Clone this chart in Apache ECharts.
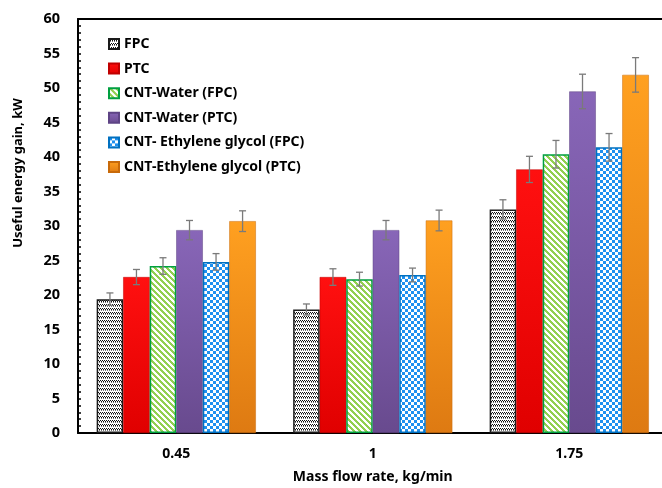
<!DOCTYPE html>
<html>
<head>
<meta charset="utf-8">
<script src="https://cdn.jsdelivr.net/npm/echarts@6/dist/echarts.min.js"></script>
<style>html,body{margin:0;padding:0;background:#fff;overflow:hidden}#c{width:662px;height:488px;overflow:hidden}</style>
</head>
<body>
<div id="c"></div>
<script>
var categories = ['0.45', '1', '1.75'];
var seriesNames = ['FPC', 'PTC', 'CNT-Water (FPC)', 'CNT-Water (PTC)', 'CNT- Ethylene glycol (FPC)', 'CNT-Ethylene glycol (PTC)'];
var fpc = [19.4, 17.9, 32.4];
var ptc = [22.6, 22.6, 38.2];
var cntWaterFpc = [24.2, 22.3, 40.4];
var cntWaterPtc = [29.4, 29.4, 49.5];
var cntEgFpc = [24.8, 22.9, 41.4];
var cntEgPtc = [30.7, 30.8, 51.9];
var fpcErr = [0.9, 0.8, 1.4];
var ptcErr = [1.1, 1.2, 1.9];
var cntWaterFpcErr = [1.2, 1.0, 2.0];
var cntWaterPtcErr = [1.4, 1.4, 2.5];
var cntEgFpcErr = [1.2, 1.0, 2.0];
var cntEgPtcErr = [1.5, 1.5, 2.5];
var yTicks = [0, 5, 10, 15, 20, 25, 30, 35, 40, 45, 50, 55, 60];

var values = [fpc, ptc, cntWaterFpc, cntWaterPtc, cntEgFpc, cntEgPtc];
var errors = [fpcErr, ptcErr, cntWaterFpcErr, cntWaterPtcErr, cntEgFpcErr, cntEgPtcErr];

function makePattern(w, h, draw) {
  var c = document.createElement('canvas');
  c.width = w; c.height = h;
  var ctx = c.getContext('2d');
  draw(ctx);
  return c;
}
var wavy = makePattern(4, 4, function (ctx) {
  ctx.fillStyle = '#ffffff'; ctx.fillRect(0, 0, 4, 4);
  ctx.fillStyle = '#111111';
  ctx.fillRect(0, 0, 1, 1); ctx.fillRect(1, 1, 1, 1); ctx.fillRect(2, 0, 1, 1); ctx.fillRect(3, 1, 1, 1);
  ctx.fillStyle = '#777777';
  ctx.fillRect(1, 2, 1, 1); ctx.fillRect(3, 2, 1, 1);
});
var stripes = makePattern(6, 6, function (ctx) {
  ctx.fillStyle = '#ffffff'; ctx.fillRect(0, 0, 6, 6);
  ctx.fillStyle = '#92D050';
  for (var i = 0; i < 6; i++) {
    ctx.fillRect(i, i, 1, 1); ctx.fillRect((i + 1) % 6, i, 1, 1); ctx.fillRect((i + 2) % 6, i, 1, 1);
  }
});
var checker = makePattern(6, 6, function (ctx) {
  ctx.fillStyle = '#ffffff'; ctx.fillRect(0, 0, 6, 6);
  ctx.fillStyle = '#1E90F0';
  ctx.fillRect(0, 0, 3, 3); ctx.fillRect(3, 3, 3, 3);
});
function grad(top, bottom) {
  return new echarts.graphic.LinearGradient(0, 0, 0, 1, [{offset: 0, color: top}, {offset: 1, color: bottom}]);
}
var styles = [
  {color: {image: wavy, repeat: 'repeat'}, borderColor: '#1a1a1a', borderWidth: 1.5},
  {color: grad('#FF1010', '#E00000'), borderColor: '#C00000', borderWidth: 0.5},
  {color: {image: stripes, repeat: 'repeat'}, borderColor: '#00A040', borderWidth: 1.5},
  {color: grad('#8866B8', '#684A8E'), borderColor: '#5E4485', borderWidth: 0.5},
  {color: {image: checker, repeat: 'repeat'}, borderColor: '#0070C0', borderWidth: 1.5},
  {color: grad('#FFA020', '#DE7A12'), borderColor: '#C86A0A', borderWidth: 0.5}
];

var gapPct = 0.19;
var series = [];
seriesNames.forEach(function (name, i) {
  series.push({
    name: name, type: 'bar', data: values[i],
    barGap: '0%', barCategoryGap: (gapPct * 100) + '%',
    itemStyle: styles[i], z: 2
  });
});
seriesNames.forEach(function (name, i) {
  series.push({
    name: name + ' err', type: 'custom', z: 5,
    data: values[i].map(function (v, k) { return [k, v, errors[i][k]]; }),
    encode: {x: 0, y: 1},
    renderItem: function (params, api) {
      var k = api.value(0), v = api.value(1), e = api.value(2);
      var c = api.coord([k, v]);
      var band = api.size([1, 0])[0];
      var bw = band * (1 - gapPct) / 6;
      var x = c[0] + (i - 2.5) * bw;
      var t = api.coord([k, v + e])[1];
      var b = api.coord([k, v - e])[1];
      var cap = 3.5;
      var st = {stroke: '#7a7a7a', lineWidth: 1.3};
      return {type: 'group', children: [
        {type: 'line', shape: {x1: x, y1: t, x2: x, y2: b}, style: st},
        {type: 'line', shape: {x1: x - cap, y1: t, x2: x + cap, y2: t}, style: st},
        {type: 'line', shape: {x1: x - cap, y1: b, x2: x + cap, y2: b}, style: st}
      ]};
    }
  });
});

var font = 'Noto Sans';
var chart = echarts.init(document.getElementById('c'), null, {renderer: 'canvas'});
chart.setOption({
  animation: false,
  backgroundColor: '#ffffff',
  grid: {left: 78, top: 19, bottom: 55, right: -5.5, show: false, outerBoundsMode: 'none', containLabel: false},
  legend: {
    data: seriesNames, orient: 'vertical', left: 103, top: 32,
    itemWidth: 10, itemHeight: 10, itemGap: 10.6, icon: 'rect',
    textStyle: {fontFamily: font, fontWeight: 'bold', fontSize: 14, color: '#000', lineHeight: 14},
    selectedMode: false
  },
  xAxis: [{
    type: 'category', data: categories,
    axisLine: {lineStyle: {color: '#000', width: 2}},
    axisTick: {show: false},
    splitLine: {show: false},
    axisLabel: {fontFamily: font, fontWeight: 'bold', fontSize: 14, color: '#000', margin: 14},
    name: 'Mass flow rate, kg/min', nameLocation: 'middle', nameGap: 37,
    nameTextStyle: {fontFamily: font, fontWeight: 'bold', fontSize: 14, color: '#000'}
  }, {
    type: 'category', data: categories, position: 'top',
    axisLine: {show: true, lineStyle: {color: '#000', width: 2}},
    splitLine: {show: false},
    axisTick: {show: false}, axisLabel: {show: false}
  }],
  yAxis: {
    type: 'value', min: yTicks[0], max: yTicks[yTicks.length - 1], interval: 5,
    axisLine: {show: true, lineStyle: {color: '#000', width: 2}},
    axisTick: {show: true, inside: true, length: 3, lineStyle: {color: '#000', width: 1.5}},
    minorTick: {show: true, splitNumber: 5, length: 3, lineStyle: {color: '#000', width: 1.5}},
    splitLine: {show: false},
    axisLabel: {fontFamily: font, fontWeight: 'bold', fontSize: 14.5, color: '#000', margin: 18}
  },
  graphic: [{
    type: 'text', x: 18, y: 173, rotation: Math.PI / 2,
    style: {text: 'Useful energy gain, kW', fontFamily: font, fontWeight: 'bold', fontSize: 13, fill: '#000', align: 'center', verticalAlign: 'middle'}
  }],
  series: series
});
</script>
</body>
</html>
